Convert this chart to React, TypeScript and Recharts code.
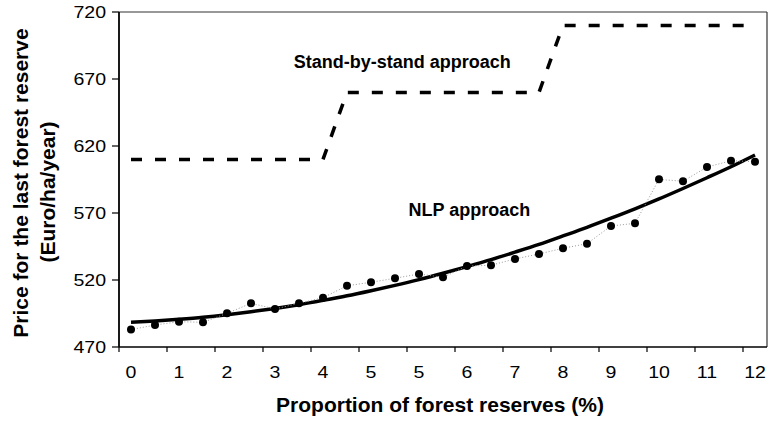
import React from 'react';
import { LineChart, Line, XAxis, YAxis, ReferenceLine, ReferenceDot, Label } from 'recharts';

// ---- data ----
const categoryIndex = [0, 1, 2, 3, 4, 5, 6, 7, 8, 9, 10, 11, 12, 13, 14, 15, 16, 17, 18, 19, 20, 21, 22, 23, 24, 25, 26];
const xTickLabels = ['0', '1', '2', '3', '4', '5', '5', '6', '7', '8', '9', '10', '11', '12'];
const yTicks = [470, 520, 570, 620, 670, 720];

const nlpObserved = [483, 486.4, 488.9, 488.4, 495.1, 502.6, 498.4, 502.6, 506.8, 515.7, 518.3, 521.3, 524.5, 522, 530.4, 531, 535.7, 539.4, 543.7, 547.1, 560.3, 562.3, 595.1, 593.7, 604.3, 609, 608.3];
const nlpTrend = [488.4, 489.4, 490.7, 492.2, 494.1, 496.3, 498.8, 501.6, 504.8, 508.2, 512.0, 516.0, 520.3, 525.0, 530.0, 535.2, 540.8, 546.6, 552.9, 559.3, 566.1, 573.1, 580.5, 588.3, 596.3, 604.5, 613.3];
const standByStand = [610, 610, 610, 610, 610, 610, 610, 610, 610, 660, 660, 660, 660, 660, 660, 660, 660, 660, 710, 710, 710, 710, 710, 710, 710, 710, 710];

const data = categoryIndex.map((idx, i) => ({
  idx,
  observed: nlpObserved[i],
  trend: nlpTrend[i],
  stand: standByStand[i],
}));

// tick marks sit between categories, every second one
const xBoundaryTicks = xTickLabels.map((_, i) => i * 2 - 0.5);

const FONT = '"Liberation Sans", Arial, Helvetica, sans-serif';

const XTick = (props: any) => {
  const { x, y, payload } = props;
  const i = Math.round((payload.value + 0.5) / 2);
  return (
    <g transform={`translate(${x + 12},${y}) scale(1.15,1)`}>
      <text x={0} y={0} dy="0.71em" textAnchor="middle" fontSize={17} fontFamily={FONT} fill="#000">
        {xTickLabels[i]}
      </text>
    </g>
  );
};

const YTick = (props: any) => {
  const { x, y, payload } = props;
  return (
    <g transform={`translate(${x},${y}) scale(1.15,1)`}>
      <text x={0} y={0} dy="0.36em" textAnchor="end" fontSize={17} fontFamily={FONT} fill="#000">
        {payload.value}
      </text>
    </g>
  );
};

const XTitle = (props: any) => {
  const vb = props.viewBox || { x: 119, y: 347, width: 648, height: 75 };
  return (
    <text x={vb.x + vb.width / 2 - 3} y={vb.y + 57} textAnchor="middle" dominantBaseline="central" fontSize={21} fontWeight="bold" fontFamily={FONT} fill="#000">
      Proportion of forest reserves (%)
    </text>
  );
};

const YTitle = (props: any) => {
  const vb = props.viewBox || { x: 0, y: 12, width: 119, height: 335 };
  const cy1 = vb.y + 171;
  const cy2 = vb.y + 180;
  return (
    <g>
      <text transform={`translate(${vb.x + 20},${cy1}) rotate(-90)`} textAnchor="middle" dominantBaseline="central" fontSize={21} fontWeight="bold" fontFamily={FONT} fill="#000">
        Price for the last forest reserve
      </text>
      <text transform={`translate(${vb.x + 47},${cy2}) rotate(-90)`} textAnchor="middle" dominantBaseline="central" fontSize={21} fontWeight="bold" fontFamily={FONT} fill="#000">
        (Euro/ha/year)
      </text>
    </g>
  );
};

const annot = (text: string) => (props: any) => {
  const vb = props.viewBox;
  if (!vb) return null;
  return (
    <text x={vb.x + vb.width / 2} y={vb.y + vb.height / 2} textAnchor="middle" dominantBaseline="central" fontSize={18} fontWeight="bold" fontFamily={FONT} fill="#000">
      {text}
    </text>
  );
};

export default function App() {
  return (
    <div style={{ position: 'absolute', left: 0, top: 0, width: 769, height: 422, background: '#fff' }}>
      <LineChart width={769} height={422} data={data} margin={{ top: 12, right: 2, bottom: 0, left: 0 }}>
        <XAxis
          dataKey="idx"
          type="number"
          domain={[-0.5, 26.5]}
          ticks={xBoundaryTicks}
          interval={0}
          allowDataOverflow
          tick={<XTick />}
          tickSize={5}
          tickMargin={14}
          tickLine={{ stroke: '#000', strokeWidth: 1.2 }}
          axisLine={{ stroke: '#000', strokeWidth: 1.6 }}
          height={75}
        >
          <Label content={<XTitle />} />
        </XAxis>
        <YAxis
          type="number"
          domain={[470, 720]}
          ticks={yTicks}
          interval={0}
          allowDataOverflow
          width={119}
          tick={<YTick />}
          tickSize={7}
          tickMargin={6}
          tickLine={{ stroke: '#000', strokeWidth: 1.2 }}
          axisLine={{ stroke: '#000', strokeWidth: 1.8 }}
        >
          <Label content={<YTitle />} />
        </YAxis>
        <ReferenceLine y={720} stroke="#333" strokeWidth={1.2} />
        <ReferenceLine x={26.5} stroke="#333" strokeWidth={1.2} />
        <Line dataKey="trend" type="monotone" stroke="#000" strokeWidth={3.5} dot={false} activeDot={false} isAnimationActive={false} />
        <Line
          dataKey="observed"
          type="linear"
          stroke="#999"
          strokeWidth={1}
          strokeDasharray="1 2"
          dot={{ r: 4, fill: '#000', stroke: '#000', strokeWidth: 0 }}
          activeDot={false}
          isAnimationActive={false}
        />
        <Line dataKey="stand" type="linear" stroke="#000" strokeWidth={3.5} strokeDasharray="11 13" dot={false} activeDot={false} isAnimationActive={false} />
        <ReferenceDot x={11.3} y={683} r={1} fill="none" stroke="none" label={annot('Stand-by-stand approach')} />
        <ReferenceDot x={14.1} y={572} r={1} fill="none" stroke="none" label={annot('NLP approach')} />
      </LineChart>
    </div>
  );
}
